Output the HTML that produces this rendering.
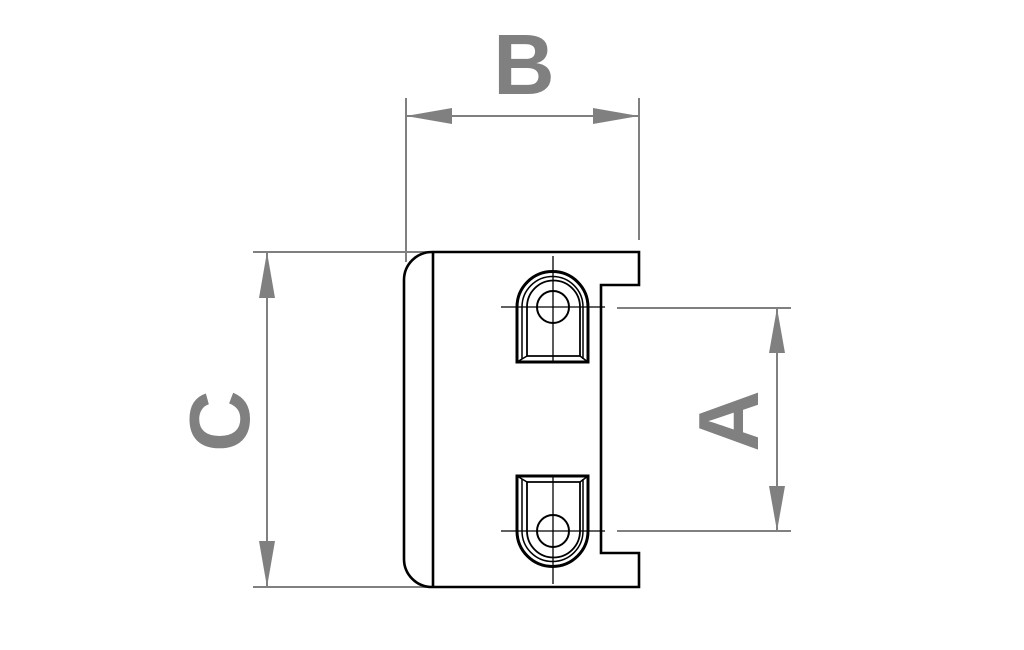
<!DOCTYPE html>
<html><head><meta charset="utf-8"><style>
html,body{margin:0;padding:0;background:#fff;}
svg{display:block;}
text{font-family:"Liberation Sans",sans-serif;font-weight:bold;fill:#808080;}
</style></head><body>
<svg width="1024" height="650" viewBox="0 0 1024 650" xmlns="http://www.w3.org/2000/svg">
<!-- dimension lines -->
<g stroke="#808080" stroke-width="2" fill="none">
  <line x1="406" y1="98" x2="406" y2="262"/>
  <line x1="639" y1="98" x2="639" y2="240"/>
  <line x1="406" y1="116" x2="639" y2="116"/>
  <line x1="253" y1="252" x2="432" y2="252"/>
  <line x1="253" y1="587" x2="432" y2="587"/>
  <line x1="267" y1="252" x2="267" y2="587"/>
  <line x1="617" y1="308" x2="791" y2="308"/>
  <line x1="617" y1="531" x2="791" y2="531"/>
  <line x1="777" y1="308" x2="777" y2="531"/>
</g>
<g fill="#808080">
  <polygon points="406,116 452,108 452,124"/>
  <polygon points="639,116 593,108 593,124"/>
  <polygon points="267,252 259,298 275,298"/>
  <polygon points="267,587 259,541 275,541"/>
  <polygon points="777,308 769,353 785,353"/>
  <polygon points="777,531 769,486 785,486"/>
</g>
<text x="524" y="94" font-size="85" text-anchor="middle">B</text>
<text transform="translate(249,421) rotate(-90)" font-size="85" text-anchor="middle">C</text>
<text transform="translate(758,421) rotate(-90)" font-size="85" text-anchor="middle">A</text>
<!-- body outline -->
<g stroke="#000" fill="none" stroke-width="2.6" stroke-linejoin="miter">
  <path d="M432,252 L639,252 L639,285 L601,285 L601,553 L639,553 L639,587 L432,587 A28,28 0 0 1 404,559 L404,280 A28,28 0 0 1 432,252 Z"/>
  <line x1="433" y1="252" x2="433" y2="587"/>
  <!-- top slot -->
  <path d="M517,362 L517,307 A35.5,35.5 0 0 1 588,307 L588,362 Z" stroke-width="3"/>
  <path d="M522,359 L522,307 A30.5,30.5 0 0 1 583,307 L583,359" stroke-width="1.5"/>
  <path d="M527,356 L527,307 A26.5,26.5 0 0 1 580,307 L580,356 Z" stroke-width="1.8"/>
  <line x1="517" y1="362" x2="527" y2="356" stroke-width="1.5"/>
  <line x1="588" y1="362" x2="580" y2="356" stroke-width="1.5"/>
  <circle cx="553" cy="307" r="16" stroke-width="2"/>
  <!-- bottom slot -->
  <path d="M517,476 L517,531 A35.5,35.5 0 0 0 588,531 L588,476 Z" stroke-width="3"/>
  <path d="M522,479 L522,531 A30.5,30.5 0 0 0 583,531 L583,479" stroke-width="1.5"/>
  <path d="M527,482 L527,531 A26.5,26.5 0 0 0 580,531 L580,482 Z" stroke-width="1.8"/>
  <line x1="517" y1="476" x2="527" y2="482" stroke-width="1.5"/>
  <line x1="588" y1="476" x2="580" y2="482" stroke-width="1.5"/>
  <circle cx="553" cy="531" r="16" stroke-width="2"/>
</g>
<!-- center lines -->
<g stroke="#000" stroke-width="1.3">
  <line x1="501" y1="307" x2="605" y2="307"/>
  <line x1="553" y1="256" x2="553" y2="362"/>
  <line x1="501" y1="531" x2="605" y2="531"/>
  <line x1="553" y1="476" x2="553" y2="584"/>
</g>
</svg>
</body></html>
